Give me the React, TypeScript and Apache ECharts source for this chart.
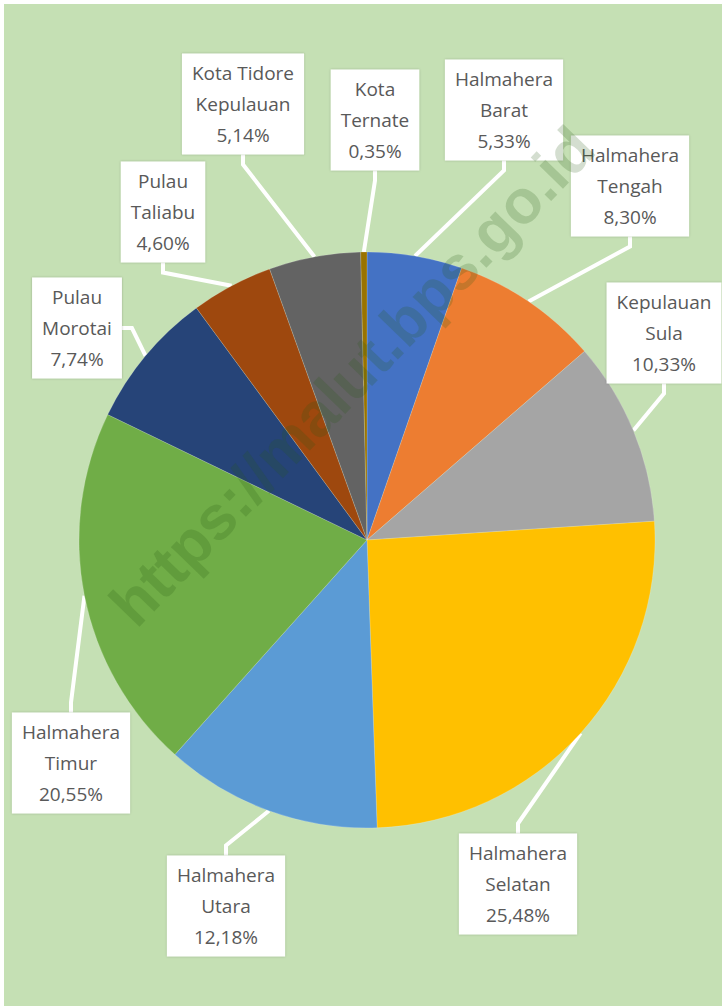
import React, { useEffect, useRef } from "react";
import * as echarts from "echarts";

const categories = [
  "Halmahera Barat",
  "Halmahera Tengah",
  "Kepulauan Sula",
  "Halmahera Selatan",
  "Halmahera Utara",
  "Halmahera Timur",
  "Pulau Morotai",
  "Pulau Taliabu",
  "Kota Tidore Kepulauan",
  "Kota Ternate",
];
const labelNames = [
  "Halmahera\nBarat",
  "Halmahera\nTengah",
  "Kepulauan\nSula",
  "Halmahera\nSelatan",
  "Halmahera\nUtara",
  "Halmahera\nTimur",
  "Pulau\nMorotai",
  "Pulau\nTaliabu",
  "Kota Tidore\nKepulauan",
  "Kota\nTernate",
];
const values = [5.33, 8.3, 10.33, 25.48, 12.18, 20.55, 7.74, 4.6, 5.14, 0.35];
const colors = [
  "#4472C4",
  "#ED7D31",
  "#A5A5A5",
  "#FFC000",
  "#5B9BD5",
  "#70AD47",
  "#264478",
  "#9E480E",
  "#636363",
  "#997300",
];
// label box centres (layout)
const labelPos: [number, number][] = [
  [504, 110],
  [630, 186],
  [664, 333],
  [518, 884],
  [226, 906],
  [71, 763],
  [77, 328],
  [163, 212],
  [243, 104],
  [375, 120],
];

export default function App() {
  const ref = useRef<HTMLDivElement>(null);
  useEffect(() => {
    document.body.style.margin = "0";
    const chart = echarts.init(ref.current!, null, { renderer: "svg" });
    chart.setOption({
      animation: false,
      backgroundColor: "#ffffff",
      graphic: [
        {
          type: "rect",
          z: -10,
          shape: { x: 4, y: 4, width: 722, height: 1006 },
          style: { fill: "#C5E0B4" },
        },
        {
          type: "text",
          z: 100,
          x: 352,
          y: 376,
          rotation: (46 * Math.PI) / 180,
          style: {
            text: "https://malut.bps.go.id",
            fontSize: 62,
            fontWeight: "bold",
            fontFamily: "Liberation Sans, Arial, sans-serif",
            fill: "rgba(40,90,20,0.2)",
            align: "center",
            verticalAlign: "middle",
          },
        },
      ],
      series: [
        {
          type: "pie",
          center: [367, 540],
          radius: 288,
          startAngle: 90,
          clockwise: true,
          avoidLabelOverlap: false,
          itemStyle: { borderColor: "rgba(255,255,255,0.35)", borderWidth: 0.5 },
          data: categories.map((c, i) => ({
            name: c,
            value: values[i],
            itemStyle: { color: colors[i] },
          })),
          label: {
            show: true,
            position: "outside",
            formatter: (p: any) =>
              labelNames[p.dataIndex] +
              "\n" +
              values[p.dataIndex].toFixed(2).replace(".", ",") +
              "%",
            backgroundColor: "#ffffff",
            padding: [4, 10, 4, 10],
            color: "#595959",
            fontSize: 19,
            lineHeight: 31,
            fontFamily: "Open Sans, Noto Sans, sans-serif",
            align: "center",
            shadowColor: "rgba(0,0,0,0.25)",
            shadowBlur: 2,
          },
          labelLine: {
            show: true,
            length: 10,
            length2: 10,
            lineStyle: { color: "#ffffff", width: 4 },
          },
          labelLayout: (params: any) => {
            const p = labelPos[params.dataIndex];
            return {
              x: p[0],
              y: p[1],
              align: "center",
              verticalAlign: "middle",
            };
          },
        },
      ],
    });
    return () => chart.dispose();
  }, []);
  return <div ref={ref} style={{ width: 722, height: 1006 }} />;
}
